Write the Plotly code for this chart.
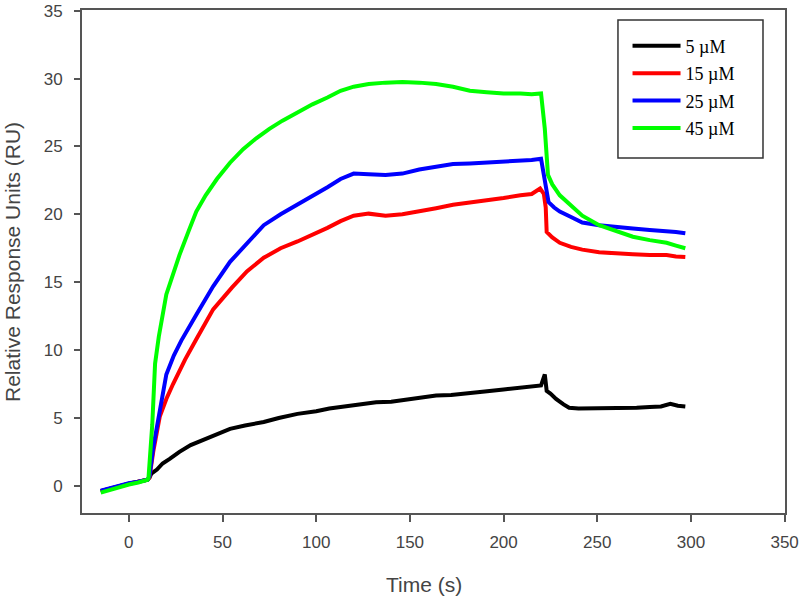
import plotly.graph_objects as go

# ---- data ----
names = ["5 µM", "15 µM", "25 µM", "45 µM"]
colors = ["#000000", "#FF0000", "#0000FF", "#00FF00"]

t_5 = [-15, -10, -5, 0, 5, 10, 11, 12, 15, 18, 22, 27, 33, 40, 47, 54, 62, 72, 80, 90,
       100, 107, 115, 125, 132, 140, 146, 155, 164, 172, 182, 190, 200, 208, 217, 220,
       222, 223, 225, 228, 232, 235, 240, 245, 253, 260, 265, 271, 278, 284, 289, 293, 297]
y_5 = [-0.4, -0.2, 0.0, 0.15, 0.3, 0.45, 0.6, 0.9, 1.2, 1.65, 2.0, 2.5, 3.0, 3.4, 3.85, 4.2,
       4.45, 4.7, 5.0, 5.3, 5.5, 5.7, 5.85, 6.05, 6.15, 6.2, 6.3, 6.45, 6.65, 6.7, 6.8, 6.95,
       7.1, 7.2, 7.3, 7.4, 8.2, 7.0, 6.8, 6.4, 6.0, 5.75, 5.7, 5.7, 5.75, 5.7, 5.7, 5.75, 5.8,
       5.85, 6.05, 5.9, 5.85]

t_15 = [-15, -10, -5, 0, 5, 10, 11, 13, 16.5, 20, 23.6, 30, 36, 45, 55, 63, 72, 81, 90, 100,
        106, 113, 120, 128, 137, 146, 155, 164, 173, 182, 191, 200, 209, 215, 219.5, 221.5,
        222.5, 223, 226, 230, 236, 242, 251, 260, 269, 278, 287, 292, 297]
y_15 = [-0.4, -0.2, 0.0, 0.15, 0.3, 0.45, 0.6, 2.5, 5.1, 6.4, 7.5, 9.3, 10.8, 13.0, 14.6,
        15.8, 16.8, 17.5, 18.0, 18.6, 19.0, 19.5, 19.9, 20.05, 19.9, 20.0, 20.2, 20.45, 20.7,
        20.85, 21.0, 21.2, 21.4, 21.5, 21.9, 21.5, 20.5, 18.7, 18.3, 17.9, 17.6, 17.4, 17.2,
        17.1, 17.05, 17.0, 17.0, 16.9, 16.85]

t_25 = [-15, -10, -5, 0, 5, 10, 11, 13, 16.5, 20, 24, 28, 36, 45, 54, 63, 72, 81, 90, 98,
        106, 113, 120, 128, 137, 146, 155, 164, 173, 182, 191, 200, 209, 215, 220, 221.5,
        222.5, 224, 227, 230, 236, 242, 251, 260, 269, 278, 287, 292, 297]
y_25 = [-0.35, -0.15, 0.05, 0.2, 0.3, 0.45, 0.7, 2.8, 5.5, 8.2, 9.6, 10.7, 12.6, 14.7, 16.5,
        17.9, 19.2, 20.0, 20.7, 21.3, 22.0, 22.6, 23.0, 22.95, 22.9, 23.0, 23.3, 23.5, 23.7,
        23.75, 23.8, 23.85, 23.95, 24.0, 24.1, 23.0, 21.9, 20.9, 20.5, 20.2, 19.8, 19.4, 19.2,
        19.05, 18.95, 18.85, 18.8, 18.7, 18.6]

t_45 = [-15, -10, -5, 0, 5, 10, 10.5, 12.5, 14, 16, 20, 24, 27, 32, 36, 41, 47, 54, 61, 68,
        75, 82, 90, 98, 106, 113, 120, 128, 137, 146, 155, 164, 173, 182, 191, 200, 209, 215,
        220, 221, 222, 223.7, 226, 230, 236, 242, 251, 260, 269, 278, 287, 292, 297]
y_45 = [-0.5, -0.3, -0.05, 0.1, 0.25, 0.45, 0.6, 4.5, 9.0, 11.0, 14.1, 15.9, 17.0, 18.8, 20.2,
        21.4, 22.6, 23.8, 24.8, 25.6, 26.3, 26.9, 27.5, 28.1, 28.6, 29.1, 29.4, 29.6, 29.7,
        29.75, 29.7, 29.6, 29.4, 29.1, 29.0, 28.9, 28.9, 28.85, 28.9, 27.5, 26.3, 22.9, 22.2,
        21.4, 20.6, 19.9, 19.2, 18.75, 18.35, 18.1, 17.9, 17.7, 17.5]

x_ticks = [0, 50, 100, 150, 200, 250, 300, 350]
y_ticks = [0, 5, 10, 15, 20, 25, 30, 35]

series_t = [t_5, t_15, t_25, t_45]
series_y = [y_5, y_15, y_25, y_45]

fig = go.Figure()
for i in range(4):
    fig.add_trace(go.Scatter(
        x=series_t[i], y=series_y[i], mode="lines", name=names[i],
        legendgroup=names[i],
        line=dict(color=colors[i], width=4),
    ))

axis_color = "#555555"
tick_font = dict(family="Liberation Sans, Arial, sans-serif", size=17, color="#444444")

fig.update_layout(
    width=812, height=607,
    margin=dict(l=82, r=27, t=10, b=94),
    paper_bgcolor="white", plot_bgcolor="white",
    showlegend=True,
    legend=dict(
        x=0.776, y=0.965, xanchor="left", yanchor="top",
        bgcolor="rgba(0,0,0,0)", borderwidth=0,
        font=dict(family="Liberation Serif, Times New Roman, serif", size=18, color="#000000"),
        tracegroupgap=1, itemwidth=48,
    ),
    xaxis=dict(
        range=[-25, 350.2], tickvals=x_ticks, ticks="outside", ticklen=7, tickwidth=1.5,
        tickcolor=axis_color, showline=True, linecolor=axis_color, linewidth=2,
        mirror=True, showgrid=False, zeroline=False, tickfont=tick_font,
        ticklabelstandoff=6, automargin=False, ticklabeloverflow="allow",
    ),
    yaxis=dict(
        range=[-2, 35.05], tickvals=y_ticks, ticks="outside", ticklen=6, tickwidth=1.5,
        tickcolor=axis_color, showline=True, linecolor=axis_color, linewidth=2,
        mirror=True, showgrid=False, zeroline=False, tickfont=tick_font,
        ticklabelstandoff=8, automargin=False, ticklabeloverflow="allow",
    ),
    shapes=[dict(
        type="rect", xref="paper", yref="paper",
        x0=0.7624, x1=0.9687, y0=0.7058, y1=0.980,
        line=dict(color="#333333", width=1.5), fillcolor="rgba(0,0,0,0)",
    )],
    annotations=[
        dict(text="Time (s)", xref="paper", yref="paper", x=0.486, y=-0.143,
             xanchor="center", yanchor="middle", showarrow=False,
             font=dict(family="Liberation Sans, Arial, sans-serif", size=21, color="#444444")),
        dict(text="Relative Response Units (RU)", xref="paper", yref="paper",
             x=-0.0996, y=0.499, xanchor="center", yanchor="middle", showarrow=False,
             textangle=-90,
             font=dict(family="Liberation Sans, Arial, sans-serif", size=21, color="#444444")),
    ],
)

fig.write_html("out.html", config={"displayModeBar": False},
               post_script="document.body.style.margin='0';")
